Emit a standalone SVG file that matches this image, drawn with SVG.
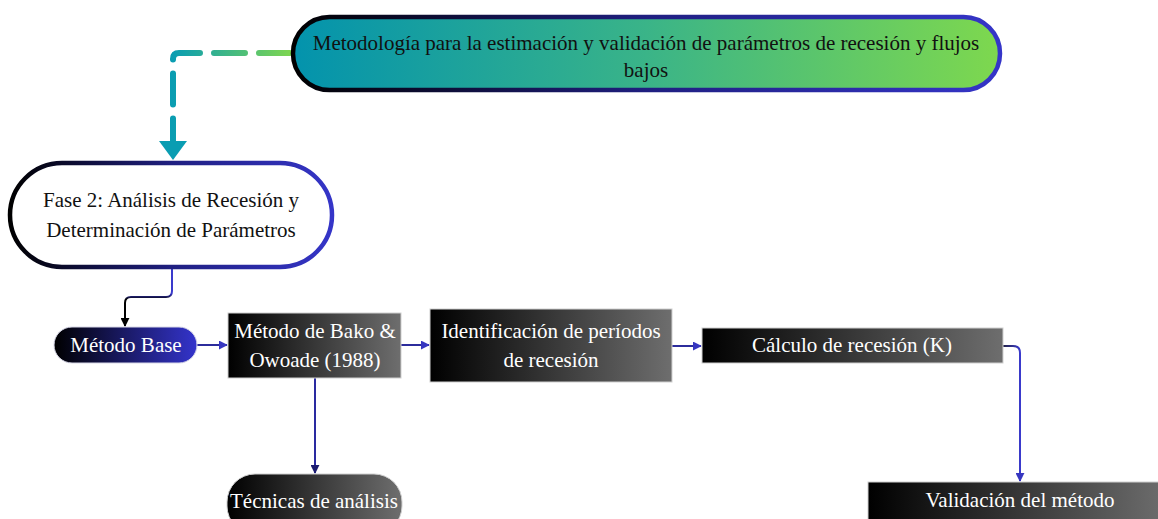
<svg xmlns="http://www.w3.org/2000/svg" width="1158" height="519" viewBox="0 0 1158 519">
<defs>
<style>
.t{font-family:"Liberation Serif","Times New Roman",serif;font-size:21px;text-anchor:middle}
.w{fill:#ffffff}
.k{fill:#111111}
.box{stroke:#d0d0d0;stroke-width:1}
.con{fill:none;stroke-width:2}
.h{stroke:#2c2c9c}
</style>
<linearGradient id="topFill" x1="0" y1="0" x2="1" y2="0">
<stop offset="0" stop-color="#0393ad"/>
<stop offset="0.5" stop-color="#3ab488"/>
<stop offset="1" stop-color="#7ed84e"/>
</linearGradient>
<linearGradient id="pillStroke" x1="0" y1="0" x2="1" y2="0">
<stop offset="0" stop-color="#000000"/>
<stop offset="0.5" stop-color="#1f1f80"/>
<stop offset="1" stop-color="#3535c8"/>
</linearGradient>
<linearGradient id="blueFill" x1="0" y1="0" x2="1" y2="0">
<stop offset="0" stop-color="#000000"/>
<stop offset="1" stop-color="#3434cc"/>
</linearGradient>
<linearGradient id="grayFill" x1="0" y1="0" x2="1" y2="0">
<stop offset="0" stop-color="#000000"/>
<stop offset="1" stop-color="#6e6e6e"/>
</linearGradient>
<linearGradient id="dashG" gradientUnits="userSpaceOnUse" x1="173" y1="0" x2="292" y2="0">
<stop offset="0" stop-color="#0a9db2"/>
<stop offset="1" stop-color="#7fd650"/>
</linearGradient>
<linearGradient id="c1G" gradientUnits="userSpaceOnUse" x1="0" y1="268" x2="0" y2="325">
<stop offset="0" stop-color="#3a3acc"/>
<stop offset="0.45" stop-color="#3a3acc"/>
<stop offset="0.55" stop-color="#000000"/>
<stop offset="1" stop-color="#000000"/>
</linearGradient>
<linearGradient id="cKG" gradientUnits="userSpaceOnUse" x1="1003" y1="0" x2="1020" y2="0">
<stop offset="0" stop-color="#222244"/>
<stop offset="1" stop-color="#3a3acc"/>
</linearGradient>
<marker id="mBlue" viewBox="0 0 10 10" refX="9" refY="5" markerWidth="4.5" markerHeight="4.5" orient="auto" markerUnits="strokeWidth">
<path d="M0,0 L10,5 L0,10 z" fill="#3636c0"/>
</marker>
<marker id="mBlack" viewBox="0 0 10 10" refX="9" refY="5" markerWidth="4.5" markerHeight="4.5" orient="auto" markerUnits="strokeWidth">
<path d="M0,0 L10,5 L0,10 z" fill="#000000"/>
</marker>
<marker id="mNavy" viewBox="0 0 10 10" refX="9" refY="5" markerWidth="4.5" markerHeight="4.5" orient="auto" markerUnits="strokeWidth">
<path d="M0,0 L10,5 L0,10 z" fill="#1c1c70"/>
</marker>
</defs>

<g id="connectors">
<path d="M290,53 H179 Q173,53 173,59 V142" fill="none" stroke="url(#dashG)" stroke-width="6" stroke-linecap="round" stroke-dasharray="31 14"/>
<path d="M159,141 L187,141 L173,160 z" fill="#0a9db2"/>
<path class="con" d="M172,268 V291 Q172,297 166,297 H131 Q125,297 125,303 V326" stroke="url(#c1G)" marker-end="url(#mBlack)"/>
<path class="con h" d="M197,345 H227" marker-end="url(#mBlue)"/>
<path class="con h" d="M401,345 H429" marker-end="url(#mBlue)"/>
<path class="con h" d="M672,346 H701" marker-end="url(#mBlue)"/>
<path class="con" d="M315,378 V473" stroke="#2a2aa0" marker-end="url(#mNavy)"/>
<path class="con" d="M1003,346 H1013 Q1020,346 1020,353 V481" stroke="url(#cKG)" marker-end="url(#mBlue)"/>
</g>

<g id="node-top">
<rect x="293" y="17" width="707" height="73" rx="36.5" fill="url(#topFill)" stroke="url(#pillStroke)" stroke-width="4.5"/>
<text class="t k" x="646" y="50">Metodología para la estimación y validación de parámetros de recesión y flujos</text>
<text class="t k" x="646" y="77">bajos</text>
</g>

<g id="node-fase2">
<rect x="10" y="163" width="322" height="104" rx="52" fill="#ffffff" stroke="url(#pillStroke)" stroke-width="4.5"/>
<text class="t k" x="171" y="207">Fase 2: Análisis de Recesión y</text>
<text class="t k" x="171" y="237">Determinación de Parámetros</text>
</g>

<g id="node-base">
<rect x="54" y="327" width="143" height="36" rx="18" fill="url(#blueFill)" stroke="#d8d8e8" stroke-width="1"/>
<text class="t w" x="126" y="352">Método Base</text>
</g>

<g id="node-bako">
<rect class="box" x="228" y="313" width="173" height="65" fill="url(#grayFill)"/>
<text class="t w" x="315" y="338">Método de Bako &amp;</text>
<text class="t w" x="315" y="367">Owoade (1988)</text>
</g>

<g id="node-ident">
<rect class="box" x="430" y="309" width="242" height="73" fill="url(#grayFill)"/>
<text class="t w" x="551" y="338">Identificación de períodos</text>
<text class="t w" x="551" y="367">de recesión</text>
</g>

<g id="node-calculo">
<rect class="box" x="702" y="328" width="301" height="35" fill="url(#grayFill)"/>
<text class="t w" x="852" y="352">Cálculo de recesión (K)</text>
</g>

<g id="node-tecnicas">
<rect class="box" x="227" y="474" width="175" height="60" rx="28" fill="url(#grayFill)"/>
<text class="t w" x="314" y="508">Técnicas de análisis</text>
</g>

<g id="node-validacion">
<rect class="box" x="868" y="482" width="300" height="45" fill="url(#grayFill)"/>
<text class="t w" x="1020" y="507">Validación del método</text>
</g>
</svg>
